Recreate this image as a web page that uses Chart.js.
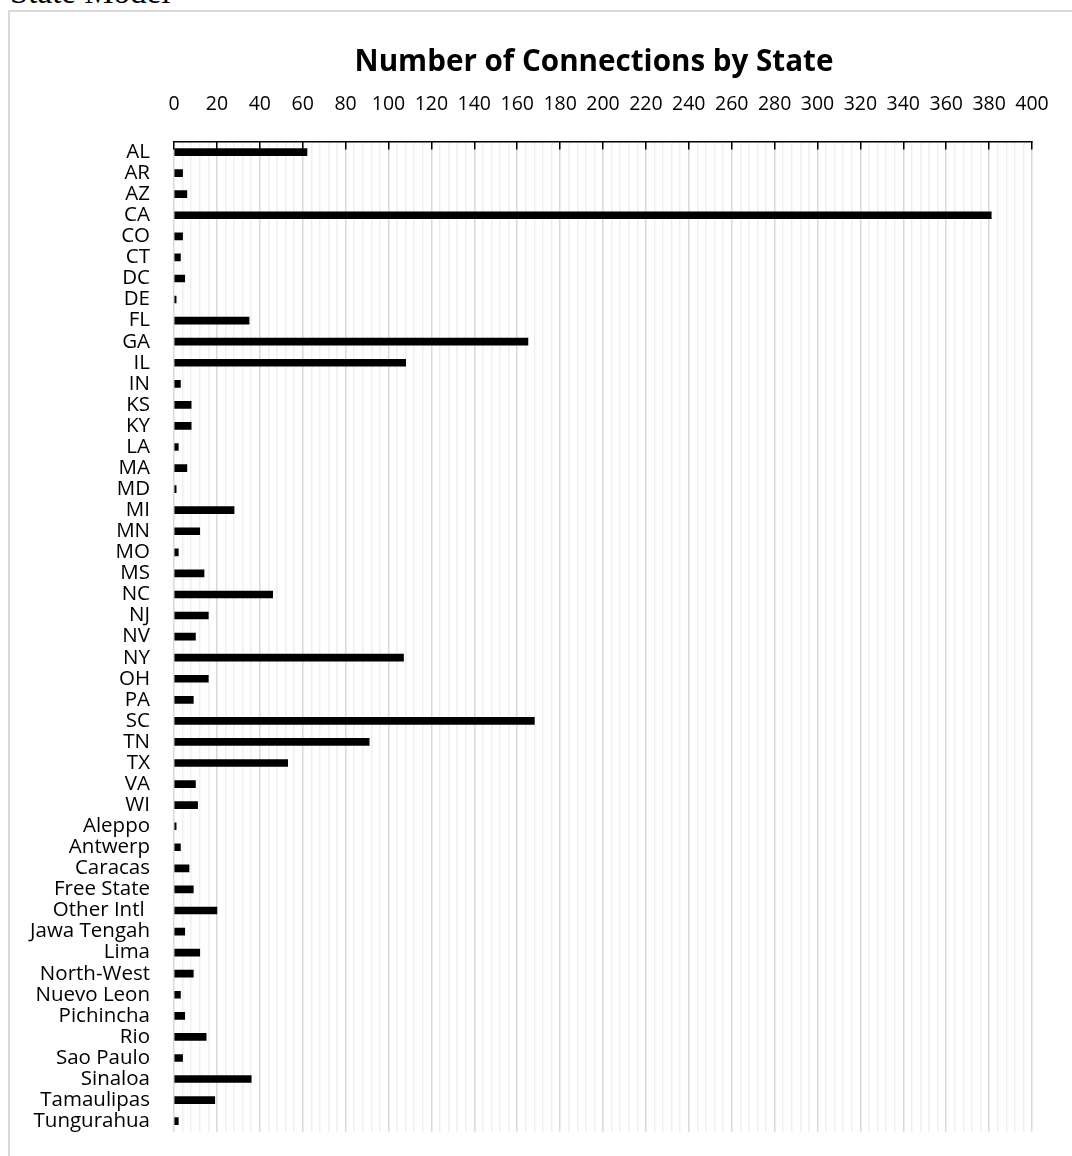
<!DOCTYPE html>
<html>
<head>
<meta charset="utf-8">
<script src="https://cdn.jsdelivr.net/npm/chart.js@4.4.1/dist/chart.umd.min.js"></script>
<style>
  html, body { margin: 0; padding: 0; background: #fff; overflow: hidden; width: 1072px; height: 1156px; }
  #heading { position: absolute; left: 10px; top: -24px; font: 33px/32px "Liberation Serif", serif; color: #000; white-space: nowrap; }
  #box { position: absolute; left: 8px; top: 10px; width: 1200px; height: 1200px; border: 2px solid #d9d9d9; }
  #chart { display: block; }
</style>
</head>
<body>
<div id="heading">State Model</div>
<div id="box"><canvas id="chart" width="1168" height="1156"></canvas></div>
<script>
// ——— data ———
const states = [
  'AL', 'AR', 'AZ', 'CA', 'CO', 'CT', 'DC', 'DE', 'FL', 'GA', 'IL', 'IN', 'KS', 'KY', 'LA', 'MA',
  'MD', 'MI', 'MN', 'MO', 'MS', 'NC', 'NJ', 'NV', 'NY', 'OH', 'PA', 'SC', 'TN', 'TX', 'VA', 'WI',
  'Aleppo', 'Antwerp', 'Caracas', 'Free State', 'Other Intl ', 'Jawa Tengah', 'Lima', 'North-West',
  'Nuevo Leon', 'Pichincha', 'Rio', 'Sao Paulo', 'Sinaloa', 'Tamaulipas', 'Tungurahua'
];
const connections = [
  62, 4, 6, 381, 4, 3, 5, 1, 35, 165, 108, 3, 8, 8, 2, 6,
  1, 28, 12, 2, 14, 46, 16, 10, 107, 16, 9, 168, 91, 53, 10, 11,
  1, 3, 7, 9, 20, 5, 12, 9,
  3, 5, 15, 4, 36, 19, 2
];
const axisMin = 0;
const axisMax = 400;
const minorStep = 4;
const majorStep = 20;

const isMajor = v => v % majorStep === 0;

// the chart box runs off the right edge of the page, so the title is
// centred on the whole canvas, not on the padded area
const fullWidthTitle = {
  id: 'fullWidthTitle',
  afterLayout(chart) {
    if (chart.titleBlock) chart.titleBlock.right = chart.width;
  }
};

// ——— chart ———
new Chart(document.getElementById('chart'), {
  type: 'bar',
  data: {
    labels: states,
    datasets: [{ label: 'Connections', data: connections, backgroundColor: '#000', barThickness: 7 }]
  },
  options: {
    indexAxis: 'y',
    responsive: false,
    animation: false,
    layout: { padding: { left: 0, right: 146, top: 0, bottom: 0 } },
    plugins: {
      legend: { display: false },
      tooltip: { enabled: false },
      title: {
        display: true,
        text: 'Number of Connections by State',
        color: '#000',
        font: { family: 'Open Sans', size: 29.6, weight: 'bold' },
        padding: { top: 33, bottom: 11 }
      }
    },
    scales: {
      x: {
        position: 'top',
        min: axisMin,
        max: axisMax,
        afterFit: s => { s.height = 50; },
        ticks: {
          stepSize: minorStep,
          autoSkip: false,
          maxRotation: 0,
          minRotation: 0,
          padding: 33,
          color: '#000',
          font: { family: 'Open Sans', size: 19.5 },
          callback: v => isMajor(v) ? v : ''
        },
        grid: {
          color: c => c.tick && isMajor(c.tick.value) ? '#d9d9d9' : '#efefef',
          lineWidth: 1.5,
          tickLength: -8,
          tickWidth: 1.5,
          tickColor: c => c.tick && isMajor(c.tick.value) ? '#000' : 'rgba(0,0,0,0)'
        },
        border: { display: true, color: '#000', width: 1.5 }
      },
      y: {
        afterFit: s => { s.width = 164; },
        ticks: {
          autoSkip: false,
          padding: 24,
          color: '#000',
          font: { family: 'Open Sans', size: 20.5 }
        },
        grid: { display: false, drawTicks: false },
        border: { display: false }
      }
    }
  },
  plugins: [fullWidthTitle]
});
</script>
</body>
</html>
